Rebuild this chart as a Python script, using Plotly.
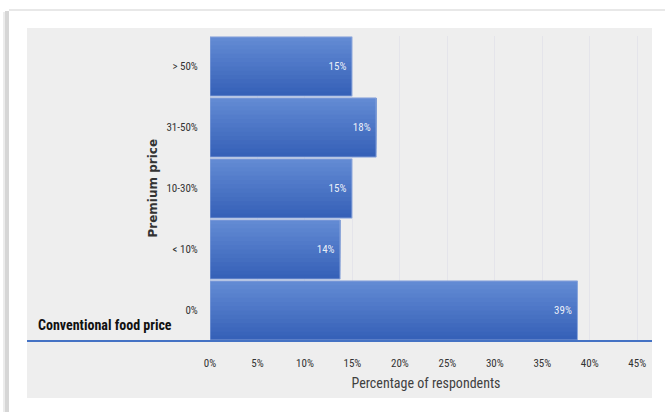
import plotly.graph_objects as go

# ---- data ----
categories = ["0%", "< 10%", "10-30%", "31-50%", "> 50%"]
values = [38.7, 13.7, 14.95, 17.5, 14.95]
value_labels = ["39%", "14%", "15%", "18%", "15%"]
x_ticks = [0, 5, 10, 15, 20, 25, 30, 35, 40, 45]
x_tick_labels = [f"{t}%" for t in x_ticks]

W, H = 665, 412
ML, MR, MT, MB = 210, 23, 36, 71
PW, PH = W - ML - MR, H - MT - MB

def px_x(p):
    return (p - ML) / PW

def px_y(p):
    return (H - MB - p) / PH

NARROW = "Liberation Sans Narrow, Arial Narrow, Roboto Condensed, Liberation Sans, sans-serif"
BLUE = "#4472c4"

BAR_W = 0.97
N_BANDS = 14
TOP_RGB = (0x62, 0x8a, 0xd3)
BOT_RGB = (0x36, 0x61, 0xb8)

def mix(t):
    r, g, b = (round(BOT_RGB[i] + (TOP_RGB[i] - BOT_RGB[i]) * t) for i in range(3))
    return f"rgb({r},{g},{b})"

fig = go.Figure()
# stepped vertical gradient: bands anchored at the top of each bar
for j in range(N_BANDS):
    w = BAR_W * (N_BANDS - j) / N_BANDS
    fig.add_trace(go.Bar(
        y=categories, x=values, orientation="h",
        width=w, offset=BAR_W / 2 - w,
        marker=dict(color=mix(j / (N_BANDS - 1)), line=dict(width=0)),
        hoverinfo="skip",
    ))
# outline + labels
fig.add_trace(go.Bar(
    y=categories, x=values, orientation="h",
    width=BAR_W, offset=-BAR_W / 2,
    text=[lbl + " " for lbl in value_labels],
    textposition="inside",
    insidetextanchor="end",
    textfont=dict(family=NARROW, size=11, color="rgba(255,255,255,0.9)"),
    marker=dict(color="rgba(0,0,0,0)", line=dict(color="#8ea8dc", width=1)),
    hoverinfo="skip",
))

shapes = [
    # gray chart-area background
    dict(type="rect", xref="paper", yref="paper", layer="below",
         x0=px_x(27), x1=px_x(652), y0=px_y(398), y1=px_y(28),
         fillcolor="#eeeeee", line=dict(width=0)),
    # card left shadow
    dict(type="rect", xref="paper", yref="paper", layer="below",
         x0=px_x(5), x1=px_x(9), y0=px_y(412), y1=px_y(11),
         fillcolor="#d6d6d6", line=dict(width=0)),
    dict(type="rect", xref="paper", yref="paper", layer="below",
         x0=px_x(3), x1=px_x(5), y0=px_y(412), y1=px_y(12),
         fillcolor="#ececec", line=dict(width=0)),
    # card top edge
    dict(type="rect", xref="paper", yref="paper", layer="below",
         x0=px_x(9), x1=px_x(665), y0=px_y(11), y1=px_y(9),
         fillcolor="#e8e8e8", line=dict(width=0)),
    # baseline
    dict(type="line", xref="paper", yref="paper", layer="above",
         x0=px_x(27), x1=px_x(652), y0=0, y1=0,
         line=dict(color=BLUE, width=2)),
]

annotations = [
    dict(text="<b>Conventional food price</b>", xref="paper", yref="paper",
         x=px_x(36), y=px_y(325), xanchor="left", yanchor="middle",
         showarrow=False, font=dict(family=NARROW, size=14, color="#111111")),
    dict(text="<b>Premium price</b>", xref="paper", yref="paper",
         x=px_x(152), y=0.5, xanchor="center", yanchor="middle", textangle=-90,
         showarrow=False, font=dict(family="DejaVu Sans", size=12, color="#333333")),
]

fig.update_layout(
    width=W, height=H,
    margin=dict(l=ML, r=MR, t=MT, b=MB, pad=0),
    paper_bgcolor="white",
    plot_bgcolor="rgba(0,0,0,0)",
    barmode="overlay",
    showlegend=False,
    shapes=shapes,
    annotations=annotations,
    xaxis=dict(
        range=[0, 45.5],
        tickvals=x_ticks, ticktext=x_tick_labels,
        showgrid=True, gridcolor="#e4e4ea", gridwidth=1,
        zeroline=False, showline=False,
        ticks="outside", ticklen=12, tickcolor="rgba(0,0,0,0)",
        tickfont=dict(family=NARROW, size=11, color="#333333"),
        title=dict(text="Percentage of respondents", standoff=8,
                   font=dict(family=NARROW, size=14, color="#404040")),
    ),
    yaxis=dict(
        type="category",
        categoryorder="array", categoryarray=categories,
        showgrid=False, zeroline=False, showline=False,
        ticks="outside", ticklen=9, tickcolor="rgba(0,0,0,0)",
        tickfont=dict(family=NARROW, size=11, color="#333333"),
    ),
)

fig.write_html("out.html")
